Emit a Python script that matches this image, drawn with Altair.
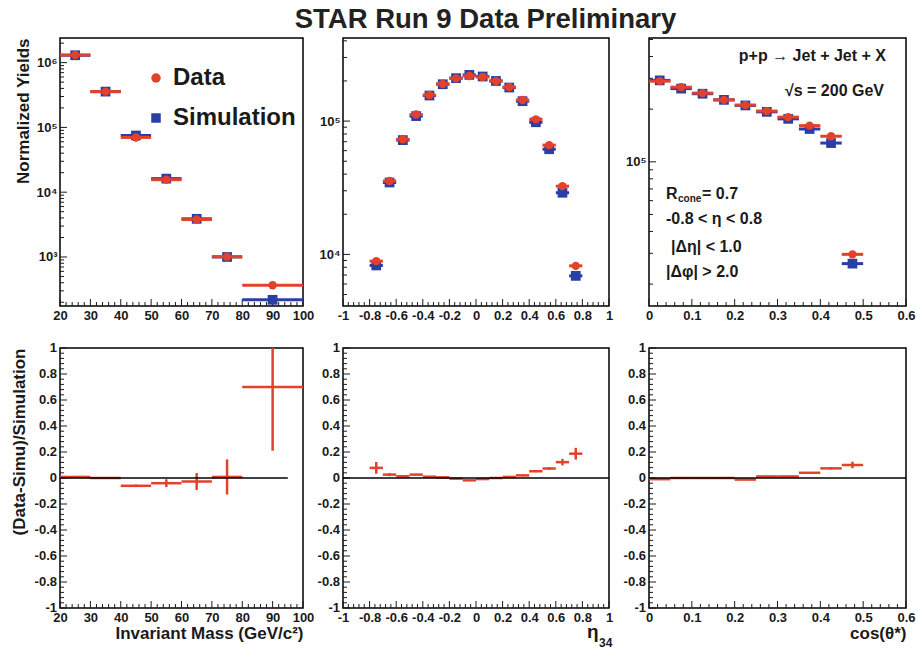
import altair as alt
import pandas as pd

FONT = "Liberation Sans"
RED = "#e2412b"
BLUE = "#2a3fa5"
INK = "#1a1a1a"

# ---------------- data ----------------
# invariant mass panel
mass_lo = [20, 30, 40, 50, 60, 70, 80]
mass_hi = [30, 40, 50, 60, 70, 80, 100]
mass_mid = [25, 35, 45, 55, 65, 75, 90]
mass_data = [1.31e6, 3.57e5, 7.0e4, 1.56e4, 3.78e3, 1.01e3, 366]
mass_sim = [1.30e6, 3.57e5, 7.5e4, 1.62e4, 3.88e3, 1.0e3, 218]
mass_ratio = [0.008, 0.0, -0.06, -0.04, -0.027, 0.008, 0.70]
mass_ratio_err = [0.004, 0.005, 0.01, 0.03, 0.065, 0.135, 0.49]
mass_zero = [20, 95]

# eta_34 panel
eta_lo = [-0.8, -0.7, -0.6, -0.5, -0.4, -0.3, -0.2, -0.1, 0.0, 0.1, 0.2, 0.3, 0.4, 0.5, 0.6, 0.7]
eta_hi = [-0.7, -0.6, -0.5, -0.4, -0.3, -0.2, -0.1, 0.0, 0.1, 0.2, 0.3, 0.4, 0.5, 0.6, 0.7, 0.8]
eta_mid = [-0.75, -0.65, -0.55, -0.45, -0.35, -0.25, -0.15, -0.05,
           0.05, 0.15, 0.25, 0.35, 0.45, 0.55, 0.65, 0.75]
eta_data = [8.9e3, 3.55e4, 7.3e4, 1.12e5, 1.57e5, 1.90e5, 2.09e5, 2.18e5,
            2.14e5, 2.00e5, 1.80e5, 1.44e5, 1.03e5, 6.6e4, 3.25e4, 8.2e3]
eta_sim = [8.26e3, 3.46e4, 7.2e4, 1.09e5, 1.555e5, 1.89e5, 2.10e5, 2.22e5,
           2.16e5, 2.00e5, 1.785e5, 1.41e5, 9.8e4, 6.15e4, 2.9e4, 6.9e3]
eta_ratio = [0.078, 0.026, 0.013, 0.026, 0.010, 0.005, -0.005, -0.018,
             -0.008, 0.0, 0.008, 0.020, 0.052, 0.073, 0.122, 0.187]
eta_ratio_err = [0.045, 0.012, 0.008, 0.006, 0.005, 0.005, 0.005, 0.005,
                 0.005, 0.005, 0.005, 0.006, 0.008, 0.010, 0.025, 0.045]
eta_zero = [-1, 1]

# cos(theta*) panel
cos_lo = [0.0, 0.05, 0.1, 0.15, 0.2, 0.25, 0.3, 0.35, 0.4, 0.45]
cos_hi = [0.05, 0.1, 0.15, 0.2, 0.25, 0.3, 0.35, 0.4, 0.45, 0.5]
cos_mid = [0.025, 0.075, 0.125, 0.175, 0.225, 0.275, 0.325, 0.375, 0.425, 0.475]
cos_data = [2.89e5, 2.67e5, 2.47e5, 2.26e5, 2.11e5, 1.95e5, 1.80e5, 1.61e5, 1.40e5, 2.96e4]
cos_sim = [2.92e5, 2.62e5, 2.45e5, 2.26e5, 2.10e5, 1.93e5, 1.76e5, 1.54e5, 1.28e5, 2.62e4]
cos_ratio = [-0.009, 0.0, 0.0, 0.0, -0.012, 0.012, 0.012, 0.040, 0.074, 0.100]
cos_ratio_err = [0.004, 0.004, 0.004, 0.004, 0.004, 0.005, 0.005, 0.006, 0.008, 0.025]
cos_zero = [0, 0.6]

series_names = ["Data", "Simulation"]
title_text = "STAR Run 9 Data Preliminary"
info_top = ["p+p \u2192 Jet + Jet + X", "\u221As = 200 GeV"]
info_cuts = ["-0.8 < \u03b7 < 0.8", "|\u0394\u03b7| < 1.0", "|\u0394\u03c6| > 2.0"]

# ---------------- layout ----------------
W1, W2, W3 = 243, 266, 257
H1, H2 = 268, 260
MAJ, MIN = 7, 4
SUP = "['\u2070','\u00b9','\u00b2','\u00b3','\u2074','\u2075','\u2076','\u2077','\u2078','\u2079']"


def lin_ticks(a, b, step):
    n = int(round((b - a) / step))
    return [round(a + i * step, 6) for i in range(n + 1)]


def split_lin(vals, step):
    maj = [v for v in vals if abs(v / step - round(v / step)) < 1e-6]
    mnr = [v for v in vals if abs(v / step - round(v / step)) >= 1e-6]
    return maj, mnr


def log_ticks(lo, hi):
    maj, mnr = [], []
    for e in range(-2, 9):
        for m in range(1, 10):
            v = m * 10 ** e
            if lo <= v <= hi:
                (maj if m == 1 else mnr).append(v)
    return maj, mnr


def lin_axis(majors, title=None, labels=True, **kw):
    return alt.Axis(values=majors, title=title, ticks=False, domain=False, grid=False,
                    labels=labels, labelExpr="'' + datum.value", labelPadding=3,
                    labelOverlap=False, labelFlush=False, **kw)


def log_axis(majors, title=None, **kw):
    e = "round(log(datum.value) / LN10)"
    return alt.Axis(values=majors, title=title, ticks=False, domain=False, grid=False,
                    labelExpr=f"'10' + {SUP}[{e}]", labelPadding=3,
                    labelOverlap=False, labelFlush=False, **kw)


def tick_layers(xs, xaxis, xmaj, xmin, ys, yaxis, ymaj, ymin, h):
    out = []
    for vals, ln in [(xmaj, MAJ), (xmin, MIN)]:
        out.append(alt.Chart(pd.DataFrame({"v": vals})).mark_rule(color=INK, strokeWidth=1).encode(
            x=alt.X("v:Q", scale=xs, axis=xaxis), y=alt.value(h), y2=alt.value(h - ln)))
    for vals, ln in [(ymaj, MAJ), (ymin, MIN)]:
        out.append(alt.Chart(pd.DataFrame({"v": vals})).mark_rule(color=INK, strokeWidth=1).encode(
            y=alt.Y("v:Q", scale=ys, axis=yaxis), x=alt.value(0), x2=alt.value(ln)))
    return out


LEG = alt.Legend(orient="none", legendX=84, legendY=28, title=None,
                 labelFontSize=24, labelFont=FONT, labelFontWeight="bold",
                 labelColor=INK, symbolSize=90, rowPadding=16,
                 labelOffset=5, padding=0)


def panel_top(lo, hi, mid, data, sim, xdom, ydom, xstep, xaxis, yaxis, h, legend=False):
    df_sim = pd.DataFrame({"lo": lo, "hi": hi, "mid": mid, "val": sim, "series": "Simulation"})
    df_dat = pd.DataFrame({"lo": lo, "hi": hi, "mid": mid, "val": data, "series": "Data"})
    xs = alt.Scale(domain=xdom, nice=False, zero=False)
    ys = alt.Scale(type="log", domain=ydom, nice=False)
    xmaj, xmin = split_lin(lin_ticks(xdom[0], xdom[1], xstep[1]), xstep[0])
    ymaj, ymin = log_ticks(ydom[0], ydom[1])
    xa = xaxis(xmaj)
    ya = yaxis(ymaj)
    Y = alt.Y("val:Q", scale=ys, axis=ya)
    layers = tick_layers(xs, xa, xmaj, xmin, ys, ya, ymaj, ymin, h)
    for df, color, shape, size in [(df_sim, BLUE, "square", 95), (df_dat, RED, "circle", 70)]:
        c = alt.Chart(df)
        layers.append(c.mark_rule(color=color, strokeWidth=3, clip=True).encode(
            x=alt.X("lo:Q", scale=xs, axis=xa), x2="hi:Q", y=Y))
        if legend:
            pt = c.mark_point(filled=True, size=size, opacity=1, clip=True).encode(
                x=alt.X("mid:Q", scale=xs, axis=xa), y=Y,
                color=alt.Color("series:N", scale=alt.Scale(domain=series_names, range=[RED, BLUE]), legend=LEG),
                shape=alt.Shape("series:N", scale=alt.Scale(domain=series_names, range=["circle", "square"]), legend=LEG))
        else:
            pt = c.mark_point(filled=True, size=size, opacity=1, color=color, shape=shape, clip=True).encode(
                x=alt.X("mid:Q", scale=xs, axis=xa), y=Y)
        layers.append(pt)
    return layers


def panel_ratio(lo, hi, mid, r, err, zero, xdom, xstep, xaxis, yaxis, h):
    df = pd.DataFrame({"lo": lo, "hi": hi, "mid": mid, "r": r, "err": err})
    df["rlo"] = df["r"] - df["err"]
    df["rhi"] = df["r"] + df["err"]
    zdf = pd.DataFrame({"x0": [zero[0]], "x1": [zero[1]]})
    xs = alt.Scale(domain=xdom, nice=False, zero=False)
    ys = alt.Scale(domain=[-1, 1], nice=False, zero=False)
    xmaj, xmin = split_lin(lin_ticks(xdom[0], xdom[1], xstep[1]), xstep[0])
    ymaj, ymin = split_lin(lin_ticks(-1, 1, 0.04), 0.2)
    xa = xaxis(xmaj)
    ya = yaxis(ymaj)
    layers = tick_layers(xs, xa, xmaj, xmin, ys, ya, ymaj, ymin, h)
    # y tick labels of the ratio axis, placed through the y scale
    layers.append(alt.Chart(pd.DataFrame({"v": ymaj})).transform_calculate(
        lab="'' + datum.v").mark_text(
        align="right", baseline="middle", dx=-3, font=FONT, fontSize=13,
        fontWeight="bold", color=INK).encode(
        y=alt.Y("v:Q", scale=ys, axis=ya), x=alt.value(0), text="lab:N"))
    layers.append(alt.Chart(df).mark_rule(color=RED, strokeWidth=2.5, clip=True).encode(
        x=alt.X("lo:Q", scale=xs, axis=xa), x2="hi:Q",
        y=alt.Y("r:Q", scale=ys, axis=ya)))
    layers.append(alt.Chart(df).mark_rule(color=RED, strokeWidth=2.5, clip=True).encode(
        x=alt.X("mid:Q", scale=xs, axis=xa),
        y=alt.Y("rlo:Q", scale=ys, axis=ya), y2="rhi:Q"))
    layers.append(alt.Chart(zdf).mark_rule(color="black", strokeWidth=1.5).encode(
        x=alt.X("x0:Q", scale=xs, axis=xa), x2="x1:Q", y=alt.datum(0)))
    return layers


def text_layer(txt, x, y, align="left", size=16, baseline="middle"):
    return alt.Chart(pd.DataFrame({"t": [txt]})).mark_text(
        align=align, baseline=baseline, font=FONT, fontWeight="bold",
        fontSize=size, color=INK).encode(x=alt.value(x), y=alt.value(y), text="t:N")


ytitle_kw = dict(titleFont=FONT, titleFontSize=17, titleFontWeight="bold", titleColor=INK,
                 titleAngle=270, titleAlign="right", titleBaseline="middle", titleY=0)
xtitle_kw = dict(titleFont=FONT, titleFontWeight="bold", titleColor=INK,
                 titleAngle=0, titleAlign="right", titleBaseline="alphabetic")

# top row
tl = alt.layer(*panel_top(
    mass_lo, mass_hi, mass_mid, mass_data, mass_sim, [20, 100], [175, 2.4e6], (10, 2),
    lambda m: lin_axis(m),
    lambda m: log_axis(m, title="Normalized Yields", titleX=-37, **ytitle_kw),
    H1, legend=True)).properties(width=W1, height=H1)

tm = alt.layer(*panel_top(
    eta_lo, eta_hi, eta_mid, eta_data, eta_sim, [-1, 1], [4.1e3, 4.2e5], (0.2, 0.04),
    lambda m: lin_axis(m), lambda m: log_axis(m), H1)).properties(width=W2, height=H1)

tr_layers = panel_top(
    cos_lo, cos_hi, cos_mid, cos_data, cos_sim, [0, 0.6], [1.5e4, 5.1e5], (0.1, 0.02),
    lambda m: lin_axis(m), lambda m: log_axis(m), H1)
tr_layers += [
    text_layer(info_top[0], 237, 18, align="right"),
    text_layer(info_top[1], 235, 53, align="right"),
    text_layer("R", 17, 156),
    text_layer("cone", 29, 161, size=10),
    text_layer("= 0.7", 53, 156),
    text_layer(info_cuts[0], 17, 181),
    text_layer(info_cuts[1], 22, 209),
    text_layer(info_cuts[2], 17, 234),
]
tr = alt.layer(*tr_layers).properties(width=W3, height=H1)

# bottom row
bl = alt.layer(*panel_ratio(
    mass_lo, mass_hi, mass_mid, mass_ratio, mass_ratio_err, mass_zero, [20, 100], (10, 2),
    lambda m: lin_axis(m, title="Invariant Mass (GeV/c\u00b2)",
                       titleX=W1, titleY=30, titleFontSize=17, **xtitle_kw),
    lambda m: lin_axis(m, title="(Data-Simu)/Simulation", labels=False,
                       titleX=-41, **ytitle_kw),
    H2)).properties(width=W1, height=H2)

bm_layers = panel_ratio(
    eta_lo, eta_hi, eta_mid, eta_ratio, eta_ratio_err, eta_zero, [-1, 1], (0.2, 0.04),
    lambda m: lin_axis(m, title="\u03b7", titleX=W2 - 11, titleY=29,
                       titleFontSize=19, **xtitle_kw),
    lambda m: lin_axis(m, labels=False), H2)
bm_layers.append(text_layer("34", W2 - 10, H2 + 39, size=12, baseline="alphabetic"))
bm = alt.layer(*bm_layers).properties(width=W2, height=H2)

br = alt.layer(*panel_ratio(
    cos_lo, cos_hi, cos_mid, cos_ratio, cos_ratio_err, cos_zero, [0, 0.6], (0.1, 0.02),
    lambda m: lin_axis(m, title="cos(\u03b8*)",
                       titleX=W3, titleY=30, titleFontSize=17, **xtitle_kw),
    lambda m: lin_axis(m, labels=False), H2)).properties(width=W3, height=H2)

chart = alt.concat(
    tl, tm, tr, bl, bm, br, columns=3,
    spacing={"row": 42, "column": 40}, bounds="flush", align="each",
    title=alt.TitleParams(title_text, font=FONT, fontSize=27.5, fontWeight="bold",
                          color="#222222", anchor="middle", dx=23, offset=4),
).properties(
    padding={"left": 9, "top": 5, "right": 0, "bottom": 0},
    background="white",
).configure_view(
    stroke="black", strokeWidth=1.5
).configure_axis(
    labelFont=FONT, labelFontSize=13, labelFontWeight="bold", labelColor=INK,
)

chart.save("out.html", embed_options={"renderer": "svg", "actions": False})
